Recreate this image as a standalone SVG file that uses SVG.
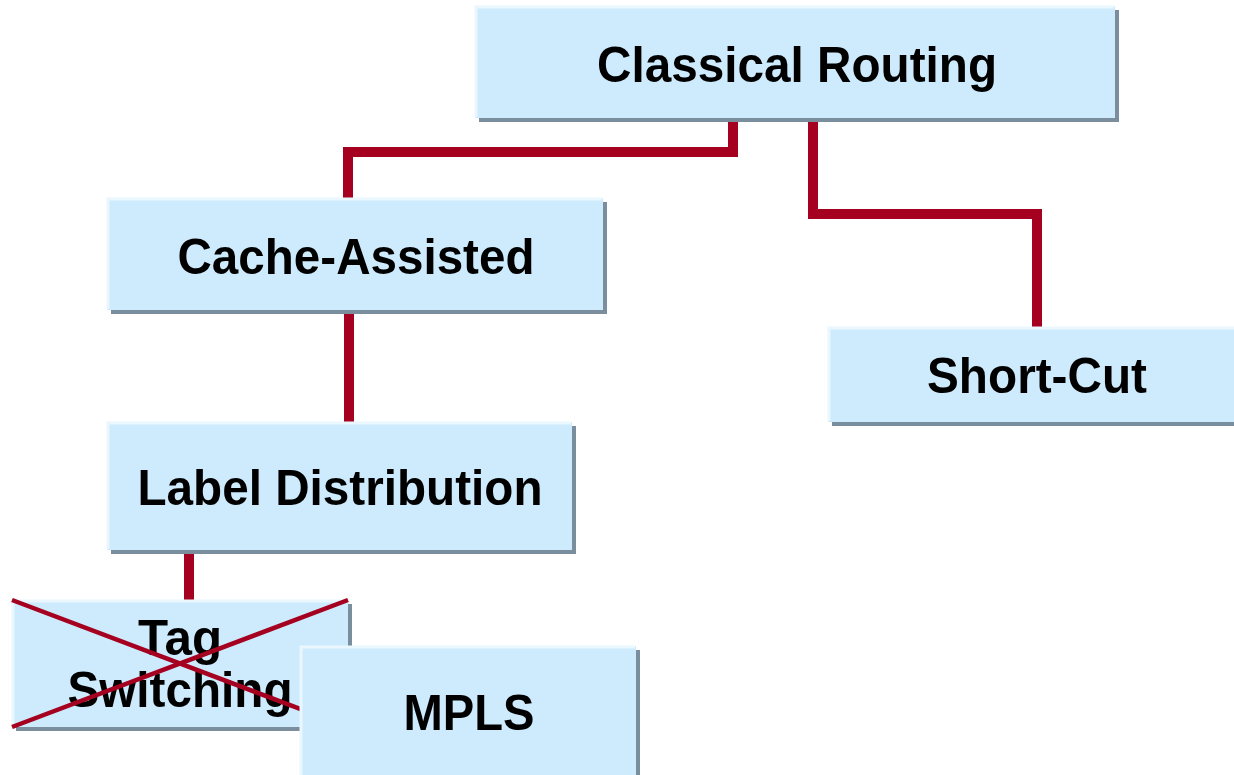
<svg xmlns="http://www.w3.org/2000/svg" width="1234" height="775" viewBox="0 0 1234 775">
  <style>
    .shadow { fill: #7a8e9e; }
    .box { fill: #cdebfd; }
    .hl { fill: none; stroke: #eaf7ff; stroke-width: 3; }
    .label { font-family: "Liberation Sans", Arial, sans-serif; font-weight: bold; font-size: 50px; fill: #000; text-anchor: middle; }
    .link { fill: none; stroke: #a5001f; stroke-width: 10; stroke-linejoin: miter; }
    .cross { fill: none; stroke: #a5001f; stroke-width: 4.5; }
  </style>
  <rect width="1234" height="775" fill="#ffffff"/>

  <!-- tree connectors -->
  <g id="connectors">
    <polyline class="link" points="733,121 733,152 348,152 348,198"/>
    <polyline class="link" points="813,121 813,214 1037,214 1037,327"/>
    <line class="link" x1="349" y1="313" x2="349" y2="422"/>
    <line class="link" x1="189" y1="553" x2="189" y2="600"/>
  </g>

  <g id="classical-routing">
    <rect class="shadow" x="479" y="10" width="640" height="112"/>
    <rect class="box" x="475" y="6" width="640" height="112"/>
    <polyline class="hl" points="476,117 476,7 1114,7"/>
    <text class="label" x="797" y="82" textLength="400" lengthAdjust="spacingAndGlyphs">Classical Routing</text>
  </g>

  <g id="cache-assisted">
    <rect class="shadow" x="111" y="202" width="496" height="112"/>
    <rect class="box" x="107" y="198" width="496" height="112"/>
    <polyline class="hl" points="108,309 108,199 602,199"/>
    <text class="label" x="356" y="274" textLength="357" lengthAdjust="spacingAndGlyphs">Cache-Assisted</text>
  </g>

  <g id="short-cut">
    <rect class="shadow" x="832" y="331" width="410" height="95"/>
    <rect class="box" x="828" y="327" width="410" height="95"/>
    <polyline class="hl" points="829,421 829,328 1234,328"/>
    <text class="label" x="1037" y="393" textLength="220" lengthAdjust="spacingAndGlyphs">Short-Cut</text>
  </g>

  <g id="label-distribution">
    <rect class="shadow" x="111" y="426" width="465" height="128"/>
    <rect class="box" x="107" y="422" width="465" height="128"/>
    <polyline class="hl" points="108,549 108,423 571,423"/>
    <text class="label" x="340" y="505" textLength="405" lengthAdjust="spacingAndGlyphs">Label Distribution</text>
  </g>

  <g id="tag-switching">
    <rect class="shadow" x="16" y="604" width="336" height="127"/>
    <rect class="box" x="12" y="600" width="336" height="127"/>
    <polyline class="hl" points="13,726 13,601 347,601"/>
    <text class="label" x="180" y="655" textLength="84" lengthAdjust="spacingAndGlyphs">Tag</text>
    <text class="label" x="180" y="707" textLength="225" lengthAdjust="spacingAndGlyphs">Switching</text>
    <line class="cross" x1="12" y1="600" x2="348" y2="727"/>
    <line class="cross" x1="348" y1="600" x2="12" y2="727"/>
  </g>

  <g id="mpls">
    <rect class="shadow" x="304" y="650" width="336" height="130"/>
    <rect class="box" x="300" y="646" width="336" height="130"/>
    <polyline class="hl" points="301,775 301,647 635,647"/>
    <text class="label" x="469" y="730" textLength="131" lengthAdjust="spacingAndGlyphs">MPLS</text>
  </g>
</svg>
